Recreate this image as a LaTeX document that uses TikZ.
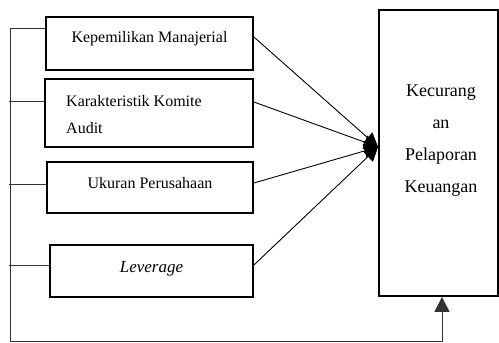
\documentclass[tikz,border=0pt]{standalone}
\usepackage{fontspec}
\setmainfont{Liberation Serif}
\usetikzlibrary{arrows.meta}
\begin{document}
\begin{tikzpicture}[x=1pt,y=-1pt,
  box/.style={draw=black,line width=1.8pt,rectangle,inner sep=0pt},
  lbl/.style={font=\fontsize{16}{27}\selectfont,inner sep=0pt},
  conn/.style={line width=0.9pt,-{Triangle[length=14pt,width=14pt]}},
  bus/.style={line width=0.9pt,draw=black!80}]
\useasboundingbox (0,0) rectangle (499,343);
\node[box,minimum width=207pt,minimum height=53pt] (b1) at (149.5,43.5) {};
\node[box,minimum width=208pt,minimum height=68pt] (b2) at (149,113) {};
\node[box,minimum width=206pt,minimum height=51pt] (b3) at (150,187.5) {};
\node[box,minimum width=203pt,minimum height=52pt] (b4) at (151.5,271) {};
\node[box,minimum width=119pt,minimum height=286pt] (r) at (438.5,153) {};
\node[lbl] (t1) at (149.5,39) {Kepemilikan Manajerial};
\node[lbl,align=left,anchor=west] (t2) at (66,114.5) {Karakteristik Komite\\Audit};
\node[lbl] (t3) at (150,183) {Ukuran Perusahaan};
\node[lbl,font=\fontsize{17}{20}\selectfont\itshape] (t4) at (151.5,269) {Leverage};
\node[inner sep=0pt,align=center,font=\fontsize{18}{32}\selectfont] (tr) at (441,141) {Kecurang\\an\\Pelaporan\\Keuangan};
\coordinate (tgt) at ([yshift=6pt]r.west);
\draw[conn] ([yshift=6.5pt]b1.east) -- (tgt);
\draw[conn] ([yshift=11pt]b2.east) -- (tgt);
\draw[conn] ([yshift=4.5pt]b3.east) -- (tgt);
\draw[conn] ([yshift=6pt]b4.east) -- (tgt);
\coordinate (bb) at (10,341);
\draw[bus,-{Triangle[length=15pt,width=15pt]}] ([yshift=15.5pt]b1.west) -| (bb) -| ([xshift=3.5pt]r.south);
\draw[bus] ([yshift=12pt]b2.west) -- ++(-35,0);
\draw[bus] ([yshift=3.5pt]b3.west) -- ++(-37,0);
\draw[bus] ([yshift=6pt]b4.west) -- ++(-40,0);
\end{tikzpicture}
\end{document}
